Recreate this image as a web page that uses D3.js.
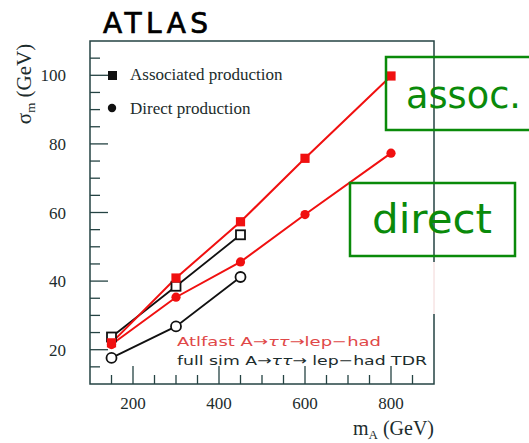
<!DOCTYPE html>
<html>
<head>
<meta charset="utf-8">
<script src="https://cdn.jsdelivr.net/npm/d3@7"></script>
<style>
  body { margin: 0; background: #fff; }
  svg { display: block; }
</style>
</head>
<body>
<svg id="chart" width="529" height="443"></svg>
<script>
// data
var massPoints     = [150, 300, 450, 600, 800];
var atlfastAssoc   = [22.0, 40.9, 57.3, 75.8, 99.8];
var atlfastDirect  = [21.5, 35.3, 45.6, 59.4, 77.3];
var fullsimMass    = [150, 300, 450];
var fullsimAssoc   = [23.7, 38.5, 53.5];
var fullsimDirect  = [17.6, 26.8, 41.2];
var xTicks = [200, 400, 600, 800];
var yTicks = [20, 40, 60, 80, 100];

var svg = d3.select("#chart");
var frameCol = "#254343";
var serif = "'Liberation Serif', 'Times New Roman', serif";
var comic = "'Comic Sans MS', 'DejaVu Sans', sans-serif";

var x = d3.scaleLinear().domain([100, 900]).range([90, 434]);
var y = d3.scaleLinear().domain([10, 110]).range([384, 41]);

// title
svg.append("text")
  .attr("x", 103).attr("y", 33)
  .attr("font-family", comic).attr("font-size", 28)
  .attr("textLength", 105).attr("lengthAdjust", "spacing")
  .attr("fill", "#000").attr("stroke", "#000").attr("stroke-width", 0.7)
  .text("ATLAS");

// frame
svg.append("rect")
  .attr("x", x(100)).attr("y", y(110))
  .attr("width", x(900) - x(100)).attr("height", y(10) - y(110))
  .attr("fill", "none").attr("stroke", frameCol).attr("stroke-width", 1.5);

// y ticks (major + minor every 5)
var yMinor = d3.range(15, 110, 5);
svg.append("g").selectAll("line").data(yMinor).join("line")
  .attr("x1", x(100)).attr("x2", function(d) { return x(100) + (d % 20 === 0 ? 18 : 10); })
  .attr("y1", function(d) { return y(d); }).attr("y2", function(d) { return y(d); })
  .attr("stroke", frameCol).attr("stroke-width", 1.3);

svg.append("g").selectAll("text").data(yTicks).join("text")
  .attr("x", 66).attr("y", function(d) { return y(d) + 6; })
  .attr("text-anchor", "end")
  .attr("font-family", serif).attr("font-size", 17).attr("fill", "#1c2c2c")
  .text(function(d) { return d; });

// x ticks (major + minor every 50)
var xMinor = d3.range(150, 900, 50);
svg.append("g").selectAll("line").data(xMinor).join("line")
  .attr("x1", function(d) { return x(d); }).attr("x2", function(d) { return x(d); })
  .attr("y1", y(10)).attr("y2", function(d) { return y(10) - (d % 200 === 0 ? 18 : 9); })
  .attr("stroke", frameCol).attr("stroke-width", 1.3);

svg.append("g").selectAll("text").data(xTicks).join("text")
  .attr("x", function(d) { return x(d); }).attr("y", 409)
  .attr("text-anchor", "middle")
  .attr("font-family", serif).attr("font-size", 17).attr("fill", "#1c2c2c")
  .text(function(d) { return d; });

// axis titles
var yt = svg.append("text")
  .attr("transform", "translate(31,84) rotate(-90)")
  .attr("text-anchor", "middle")
  .attr("font-family", serif).attr("font-size", 21).attr("fill", "#1c2c2c");
yt.append("tspan").text("σ");
yt.append("tspan").attr("font-size", 13).attr("dy", 4).text("m");
yt.append("tspan").attr("dy", -4).text(" (GeV)");

var xt = svg.append("text")
  .attr("x", 434).attr("y", 435)
  .attr("text-anchor", "end")
  .attr("font-family", serif).attr("font-size", 20).attr("fill", "#1c2c2c");
xt.append("tspan").text("m");
xt.append("tspan").attr("font-size", 13).attr("dy", 4).text("A");
xt.append("tspan").attr("dy", -4).text(" (GeV)");

// lines
var line = d3.line()
  .x(function(d) { return x(d[0]); })
  .y(function(d) { return y(d[1]); });

function series(xs, ys, colour, width) {
  var pts = xs.map(function(m, i) { return [m, ys[i]]; });
  svg.append("path").datum(pts)
    .attr("d", line).attr("fill", "none")
    .attr("stroke", colour).attr("stroke-width", width);
  return pts;
}

var fsD = series(fullsimMass, fullsimDirect, "#111", 1.8);
var fsA = series(fullsimMass, fullsimAssoc, "#111", 1.8);
var afD = series(massPoints, atlfastDirect, "#f01010", 2);
var afA = series(massPoints, atlfastAssoc, "#f01010", 2);

// markers
svg.append("g").selectAll("circle").data(fsD).join("circle")
  .attr("cx", function(d) { return x(d[0]); }).attr("cy", function(d) { return y(d[1]); })
  .attr("r", 5).attr("fill", "#fff").attr("stroke", "#111").attr("stroke-width", 1.8);
svg.append("g").selectAll("rect").data(fsA).join("rect")
  .attr("x", function(d) { return x(d[0]) - 4.5; }).attr("y", function(d) { return y(d[1]) - 4.5; })
  .attr("width", 9).attr("height", 9)
  .attr("fill", "#fff").attr("stroke", "#111").attr("stroke-width", 1.8);
svg.append("g").selectAll("circle").data(afD).join("circle")
  .attr("cx", function(d) { return x(d[0]); }).attr("cy", function(d) { return y(d[1]); })
  .attr("r", 4.6).attr("fill", "#f01010");
svg.append("g").selectAll("rect").data(afA).join("rect")
  .attr("x", function(d) { return x(d[0]) - 4.6; }).attr("y", function(d) { return y(d[1]) - 4.6; })
  .attr("width", 9.2).attr("height", 9.2).attr("fill", "#f01010");

// legend
svg.append("rect").attr("x", 108).attr("y", 71).attr("width", 9).attr("height", 9).attr("fill", "#111");
svg.append("circle").attr("cx", 112).attr("cy", 108).attr("r", 4.2).attr("fill", "#111");
svg.append("text").attr("x", 130).attr("y", 80)
  .attr("font-family", serif).attr("font-size", 17).attr("fill", "#1c2c2c")
  .text("Associated production");
svg.append("text").attr("x", 130).attr("y", 114)
  .attr("font-family", serif).attr("font-size", 17).attr("fill", "#1c2c2c")
  .text("Direct production");

// annotation
var sans = "'DejaVu Sans', 'Liberation Sans', sans-serif";
var a1 = svg.append("text").attr("x", 177).attr("y", 346)
  .attr("font-family", sans).attr("font-size", 13).attr("fill", "#e04848")
  .attr("textLength", 204).attr("lengthAdjust", "spacingAndGlyphs");
a1.append("tspan").text("Atlfast A\u2192");
a1.append("tspan").attr("font-style", "italic").text("ττ");
a1.append("tspan").text("\u2192lep\u2212had");

var a2 = svg.append("text").attr("x", 177).attr("y", 365)
  .attr("font-family", sans).attr("font-size", 13).attr("fill", "#1c2c2c")
  .attr("textLength", 250).attr("lengthAdjust", "spacingAndGlyphs");
a2.append("tspan").text("full sim A\u2192");
a2.append("tspan").attr("font-style", "italic").text("ττ");
a2.append("tspan").text("\u2192 lep\u2212had TDR");

// pasted-over patch on the right edge
svg.append("rect").attr("x", 351).attr("y", 262).attr("width", 86).attr("height", 52).attr("fill", "#fff");
svg.append("line").attr("x1", 434).attr("x2", 434).attr("y1", 262).attr("y2", 314)
  .attr("stroke", "#f2d6d6").attr("stroke-width", 1);

// green labels
var green = "#0a8a0a";
svg.append("rect").attr("x", 386).attr("y", 57).attr("width", 160).attr("height", 73)
  .attr("fill", "none").attr("stroke", green).attr("stroke-width", 2.5);
svg.append("text").attr("x", 406).attr("y", 108)
  .attr("font-family", comic).attr("font-size", 38).attr("fill", green)
  .attr("textLength", 115).attr("lengthAdjust", "spacingAndGlyphs")
  .text("assoc.");
svg.append("rect").attr("x", 350).attr("y", 183).attr("width", 165).attr("height", 73)
  .attr("fill", "none").attr("stroke", green).attr("stroke-width", 2.5);
svg.append("text").attr("x", 372).attr("y", 233)
  .attr("font-family", comic).attr("font-size", 40).attr("fill", green)
  .attr("textLength", 120).attr("lengthAdjust", "spacingAndGlyphs")
  .text("direct");
</script>
</body>
</html>
